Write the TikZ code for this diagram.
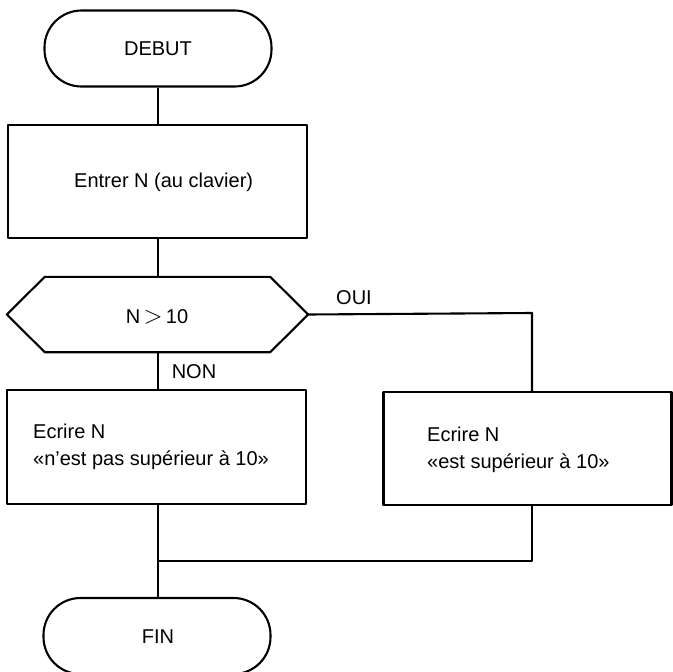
\documentclass[tikz,border=0pt]{standalone}
\usepackage{fontspec}
\setmainfont{Liberation Sans}
\begin{document}
\begin{tikzpicture}[x=1pt,y=-1pt,
  every node/.style={font=\fontsize{20}{27}\selectfont, inner sep=0pt},
  line/.style={line width=2.1pt, line join=round},
  terminal/.style={line, draw, rectangle, rounded corners=37pt, minimum width=227pt, minimum height=76pt},
  procbox/.style={line, draw, rectangle},
  txt/.style={anchor=west, align=left}]
\useasboundingbox (0,0) rectangle (673,672);

% start / end terminals
\node[terminal] (debut) at (158,48.5) {};
\node at (158,49) {DEBUT};
\node[terminal] (fin) at (157,636) {};
\node at (158,637) {FIN};

% input box
\node[procbox, minimum width=299pt, minimum height=113pt] (entrer) at (157.5,181.5) {};
\node[txt] at (74,182) {Entrer N (au clavier)};

% decision hexagon
\node[minimum width=301pt, minimum height=75pt] (test) at (157.5,314.5) {};
\draw[line] (test.west) -- ([xshift=38pt]test.north west) -- ([xshift=-38pt]test.north east)
  -- (test.east) -- ([xshift=-38pt]test.south east) -- ([xshift=38pt]test.south west) -- cycle;
\node at (157,317) {N\,{\fontsize{26}{26}\selectfont$>$}\,10};

% output boxes
\node[procbox, minimum width=299pt, minimum height=114pt] (non) at (156.5,447) {};
\node[txt] at (33,447) {Ecrire N\\«n’est pas supérieur à 10»};
\node[procbox, minimum width=288pt, minimum height=113pt] (oui) at (527.5,448.5) {};
\node[txt] at (427,450) {Ecrire N\\«est supérieur à 10»};

% branch labels
\node (lnon) at (194,372) {NON};
\node (loui) at (354,298) {OUI};

% connectors
\coordinate (turn) at (532,313);
\coordinate (join) at (157,561);
\coordinate (joinr) at (532,561);
\draw[line] (debut.south) -- (entrer.north -| debut.south);
\draw[line] (entrer.south -| debut.south) -- (test.north -| debut.south);
\draw[line] (test.south -| debut.south) -- (non.north -| debut.south);
\draw[line] (test.east) -- (turn) -- (oui.north -| turn);
\draw[line] (non.south -| debut.south) -- (fin.north -| debut.south);
\draw[line] (oui.south -| joinr) -- (joinr) -- (join);
\end{tikzpicture}
\end{document}
